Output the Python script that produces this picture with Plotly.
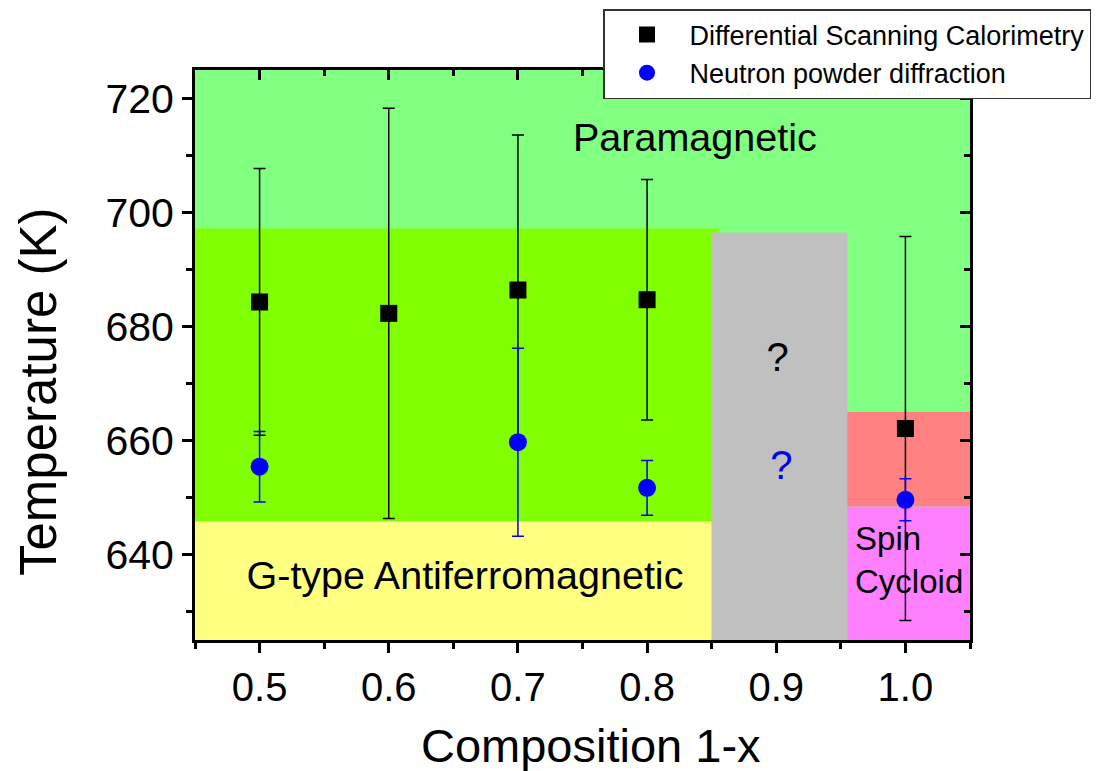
import plotly.graph_objects as go

# ---------------- data ----------------
composition_dsc = [0.5, 0.6, 0.7, 0.8, 1.0]
temp_dsc = [684.3, 682.3, 686.4, 684.7, 662.1]
err_dsc = [23.4, 36.0, 27.2, 21.1, 33.7]

composition_npd = [0.5, 0.7, 0.8, 1.0]
temp_npd = [655.4, 659.7, 651.7, 649.6]
err_npd = [6.2, 16.5, 4.8, 3.7]

x_ticks = [0.5, 0.6, 0.7, 0.8, 0.9, 1.0]
x_ticklabels = ["0.5", "0.6", "0.7", "0.8", "0.9", "1.0"]
y_ticks = [640, 660, 680, 700, 720]

x_range = [0.45, 1.05]
y_range = [625, 725]

# phase regions: (x0, x1, y0, y1, colour)
region_names = ["para", "gafm_upper", "gafm", "unknown", "mixed", "cycloid"]
region_x0 = [0.45, 0.45, 0.45, 0.85, 0.955, 0.955]
region_x1 = [1.05, 0.856, 0.85, 0.955, 1.05, 1.05]
region_y0 = [625, 645.8, 625, 625, 648.4, 625]
region_y1 = [725, 697.2, 645.8, 696.5, 665.0, 648.4]
region_colors = ["#80FF80", "#80FF00", "#FFFF80", "#C0C0C0", "#FF8080", "#FF80FF"]

label_text = ["Paramagnetic", "G-type Antiferromagnetic", "?", "?"]
label_x = [0.837, 0.659, 0.901, 0.904]
label_y = [712.6, 635.6, 674.0, 655.0]
label_color = ["black", "black", "black", "blue"]
label_size = [39.5, 39.5, 40, 40]

FONT = "Arial, Liberation Sans, sans-serif"

fig = go.Figure()

# region labels (under the data)
fig.add_trace(go.Scatter(
    x=label_x, y=label_y, text=label_text, mode="text",
    textposition="middle center",
    textfont=dict(family=FONT, size=label_size, color=label_color),
    showlegend=False, hoverinfo="skip"))
fig.add_trace(go.Scatter(
    x=[0.961], y=[638.4], text=["Spin<br>Cycloid"], mode="text",
    textposition="middle right",
    textfont=dict(family=FONT, size=33, color="black"),
    showlegend=False, hoverinfo="skip"))

fig.add_trace(go.Scatter(
    x=composition_dsc, y=temp_dsc, mode="markers",
    name="Differential Scanning Calorimetry",
    marker=dict(symbol="square", size=17, color="black"),
    error_y=dict(type="data", array=err_dsc, visible=True,
                 color="black", thickness=1.5, width=6)))
fig.add_trace(go.Scatter(
    x=composition_npd, y=temp_npd, mode="markers",
    name="Neutron powder diffraction",
    marker=dict(symbol="circle", size=18, color="blue"),
    error_y=dict(type="data", array=err_npd, visible=True,
                 color="blue", thickness=1.5, width=6)))

# dummy trace to anchor mirrored axes (top/right inside ticks)
fig.add_trace(go.Scatter(x=[], y=[], xaxis="x2", yaxis="y2",
                         showlegend=False, hoverinfo="skip"))

shapes = []
for x0, x1, y0, y1, c in zip(region_x0, region_x1, region_y0, region_y1, region_colors):
    shapes.append(dict(type="rect", xref="x", yref="y", x0=x0, x1=x1, y0=y0, y1=y1,
                       fillcolor=c, line=dict(width=0), layer="below"))

annotations = [
    dict(text="Composition 1-x", xref="paper", yref="paper",
         x=(591 - 195) / 775, y=(640 - 745) / 570, xanchor="center", yanchor="middle",
         showarrow=False, font=dict(family=FONT, size=47, color="black")),
    dict(text="Temperature (K)", xref="paper", yref="paper", textangle=-90,
         x=(38 - 195) / 775, y=(640 - 392) / 570, xanchor="center", yanchor="middle",
         showarrow=False, font=dict(family=FONT, size=51, color="black")),
]

fig.update_layout(
    width=1104, height=771,
    margin=dict(l=195, r=134, t=70, b=131, autoexpand=False),
    paper_bgcolor="white", plot_bgcolor="white",
    font=dict(family=FONT, color="black"),
    shapes=shapes,
    annotations=annotations,
    showlegend=True,
    legend=dict(x=(603 - 195) / 775, y=1 + (70 - 9) / 570,
                xanchor="left", yanchor="top",
                bgcolor="white", bordercolor="#333333", borderwidth=1.5,
                font=dict(family=FONT, size=27, color="black"),
                itemwidth=75, tracegroupgap=0),
    xaxis=dict(range=x_range, tickmode="array", tickvals=x_ticks, ticktext=x_ticklabels,
               ticks="outside", ticklen=10, tickwidth=3, tickcolor="black",
               showline=True, linewidth=3, linecolor="black", mirror=True,
               showgrid=False, zeroline=False,
               tickfont=dict(family=FONT, size=40),
               minor=dict(tickmode="array", tickvals=[0.45, 0.55, 0.65, 0.75, 0.85, 0.95, 1.05],
                          ticks="outside", ticklen=6, tickwidth=3, tickcolor="black", showgrid=False)),
    yaxis=dict(range=y_range, tickmode="array", tickvals=y_ticks,
               ticks="outside", ticklen=10, tickwidth=3, tickcolor="black",
               showline=True, linewidth=3, linecolor="black", mirror=True,
               showgrid=False, zeroline=False,
               tickfont=dict(family=FONT, size=41),
               minor=dict(tickmode="array", tickvals=[630, 650, 670, 690, 710],
                          ticks="outside", ticklen=6, tickwidth=3, tickcolor="black", showgrid=False)),
    xaxis2=dict(range=x_range, overlaying="x", side="top", anchor="y2",
                tickmode="array", tickvals=x_ticks, showticklabels=False,
                ticks="inside", ticklen=10, tickwidth=3, tickcolor="black",
                showgrid=False, zeroline=False, showline=False,
                minor=dict(tickmode="array", tickvals=[0.55, 0.65, 0.75, 0.85, 0.95],
                           ticks="inside", ticklen=6, tickwidth=3, tickcolor="black", showgrid=False)),
    yaxis2=dict(range=y_range, overlaying="y", side="right", anchor="x2",
                tickmode="array", tickvals=y_ticks, showticklabels=False,
                ticks="inside", ticklen=10, tickwidth=3, tickcolor="black",
                showgrid=False, zeroline=False, showline=False,
                minor=dict(tickmode="array", tickvals=[630, 650, 670, 690, 710],
                           ticks="inside", ticklen=6, tickwidth=3, tickcolor="black", showgrid=False)),
)

fig.write_html("out.html")
